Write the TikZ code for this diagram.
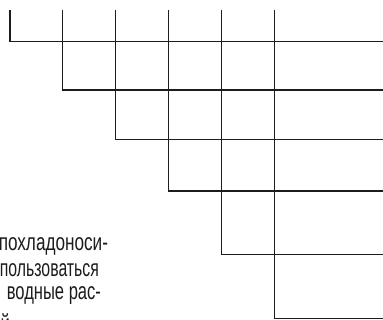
\documentclass[tikz,border=0pt]{standalone}
\usepackage{fontspec}
\newfontfamily\condfont[FakeStretch=0.69]{Liberation Sans}
\newfontfamily\condwide[FakeStretch=0.715]{Liberation Sans}
\newfontfamily\condtight[FakeStretch=0.66]{Liberation Sans}
\definecolor{ink}{RGB}{28,28,28}
\tikzset{
  stair/.style={draw=ink, line width=1.1pt, line join=miter},
  para/.style={anchor=base east, inner sep=0pt, outer sep=0pt, text=ink,
    font=\condfont\fontsize{24}{25}\selectfont}
}
\begin{document}
\begin{tikzpicture}[x=1pt, y=-1pt]
\useasboundingbox (0,0) rectangle (383,320);
\clip (0,0) rectangle (383,320);
% staircase lines
\coordinate (e) at (383,0);
\foreach \xx/\yy in {10/41.7, 62.7/90, 115.7/139.3, 168.7/191, 221.7/254.7, 274.7/318.3}{
  \draw[stair] (\xx,10) -- (\xx,\yy) -- (e |- {0,\yy});
}
% clipped paragraph
\node[para, font=\condwide\fontsize{24}{25}\selectfont] (t1) at (108,250.7) {похладоноси-};
\node[para, font=\condtight\fontsize{24}{25}\selectfont] (t2) at (99,276.8) {пользоваться};
\node[para] (t3) at (101,300) {водные рас-};
\node[para] (t4) at (10,332) {й};
\end{tikzpicture}
\end{document}
